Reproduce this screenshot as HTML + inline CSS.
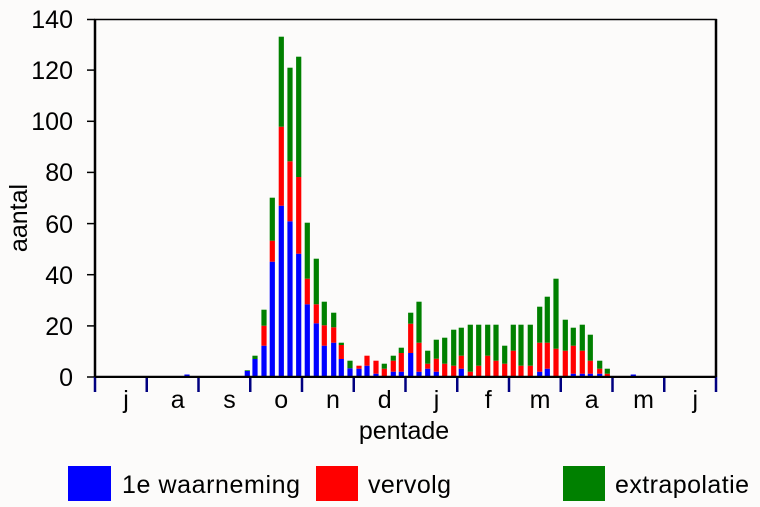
<!DOCTYPE html>
<html><head><meta charset="utf-8"><style>
html,body{margin:0;padding:0;background:#fcfbfa;}
svg{display:block;font-family:"Liberation Sans",Arial,sans-serif;}
</style></head><body>
<svg id="s" width="760" height="507" viewBox="0 0 760 507" xmlns="http://www.w3.org/2000/svg">
<rect x="0" y="0" width="760" height="507" fill="#fcfbfa"/>
<g id="bars"></g>
<rect x="95" y="19.5" width="621" height="357" fill="none" stroke="#000" stroke-width="1.5"/>
<line x1="95" y1="19" x2="95" y2="377" stroke="#000" stroke-width="2.5"/>
<line x1="716" y1="19" x2="716" y2="377" stroke="#000" stroke-width="2.5"/>
<g stroke="#000" stroke-width="1.5">
<line x1="87" y1="377" x2="95" y2="377"/><line x1="87" y1="325.9" x2="95" y2="325.9"/>
<line x1="87" y1="274.7" x2="95" y2="274.7"/><line x1="87" y1="223.6" x2="95" y2="223.6"/>
<line x1="87" y1="172.4" x2="95" y2="172.4"/><line x1="87" y1="121.3" x2="95" y2="121.3"/>
<line x1="87" y1="70.1" x2="95" y2="70.1"/><line x1="87" y1="19.5" x2="95" y2="19.5"/>
</g>
<g font-size="25" text-anchor="end" fill="#000">
<text x="73" y="386">0</text><text x="73" y="335">20</text><text x="73" y="284">40</text>
<text x="73" y="233">60</text><text x="73" y="181">80</text><text x="73" y="130">100</text>
<text x="73" y="79">120</text><text x="73" y="28">140</text>
</g>
<g id="ticks" stroke="#000080" stroke-width="2.5"></g>
<g font-size="25" text-anchor="middle" fill="#000" id="months"></g>
<text x="404" y="439" font-size="25" text-anchor="middle">pentade</text>
<text transform="translate(27,218) rotate(-90)" font-size="25" text-anchor="middle">aantal</text>
<rect x="68" y="466" width="43" height="35" fill="#0000ff"/>
<text x="122" y="493" font-size="25" textLength="178" lengthAdjust="spacing">1e waarneming</text>
<rect x="316" y="466" width="42" height="35" fill="#ff0000"/>
<text x="368" y="493" font-size="25" textLength="83" lengthAdjust="spacing">vervolg</text>
<rect x="563" y="466" width="42" height="35" fill="#008000"/>
<text x="615" y="493" font-size="25" textLength="134" lengthAdjust="spacing">extrapolatie</text>
</svg>
<script>
var NS="http://www.w3.org/2000/svg";
function r(g,x,y,w,h,c){if(h<=0)return;var e=document.createElementNS(NS,"rect");e.setAttribute("x",x);e.setAttribute("y",y);e.setAttribute("width",w);e.setAttribute("height",h);if(c)e.setAttribute("fill",c);g.appendChild(e);}
var B=377;
var d=[[187,374.5,374.5,374.5],[247.3,371,371,370.3],[255,359,359,355.7],[264,345.7,325.7,309.7],[272.3,261.7,240.7,197.7],[281.3,205.7,126.7,36.7],[290,221.3,161.3,67.7],[298.7,253.7,177,56.7],[307.3,304.3,278.7,222.7],[316.3,323.3,304.3,258.7],[324.3,345.7,325.3,301.7],[333.7,342.7,327.3,312.7],[341.3,359,345,342.7],[350,368.3,368.3,360.7],[359,368.7,365.7,365.7],[367,365.7,355.7,355.7],[376,373.7,360.7,360.7],[384.3,377,368.7,363.7],[393.3,371.7,360.7,355.7],[401.3,371.7,353,347.7],[410.7,353,323.7,312.7],[419,371.7,342.7,301.7],[427.7,368.7,363.7,350.7],[436.3,371.7,358.7,339.7],[444.7,377,363.7,337.7],[453.7,377,365.7,329.7],[461.3,368.7,355.7,327.7],[470.3,377,371.7,324.7],[478.7,377,365.7,324.7],[487.7,377,355.7,324.7],[496,377,360.7,324.7],[504.7,377,363.7,345.7],[513.3,377,350.7,324.7],[521,377,365.7,324.7],[530.3,377,365.7,324.7],[539.7,371.7,342.7,306.7],[547.3,368.7,342.7,296.7],[556,377,348.7,278.7],[565.3,377,350.7,319.7],[573.3,373.7,345.7,327.7],[582.3,373.7,350.7,324.7],[590.3,373.7,360.7,334.7],[599.7,373.7,368.7,360.7],[607.3,377,373.7,368.7],[633.3,374.5,374.5,374.5]];
var g=document.getElementById("bars");
d.forEach(function(b){var x=b[0]-2.6,w=5.2;r(g,x,b[1],w,B-b[1],"#0000ff");r(g,x,b[2],w,b[1]-b[2],"#ff0000");r(g,x,b[3],w,b[2]-b[3],"#008000");});
var t=document.getElementById("ticks"),m=document.getElementById("months");
var names=["j","a","s","o","n","d","j","f","m","a","m","j"];
for(var i=0;i<=12;i++){var x=95+i*51.75;var l=document.createElementNS(NS,"line");l.setAttribute("x1",x);l.setAttribute("x2",x);l.setAttribute("y1",377);l.setAttribute("y2",392);t.appendChild(l);
if(i<12){var tx=document.createElementNS(NS,"text");tx.setAttribute("x",x+31);tx.setAttribute("y",408);tx.textContent=names[i];m.appendChild(tx);}}
var ax=document.createElementNS(NS,"line");ax.setAttribute("x1",95);ax.setAttribute("x2",716);ax.setAttribute("y1",377);ax.setAttribute("y2",377);ax.setAttribute("stroke","#000");ax.setAttribute("stroke-width","2");document.getElementById("s").appendChild(ax);
</script>
</body></html>
